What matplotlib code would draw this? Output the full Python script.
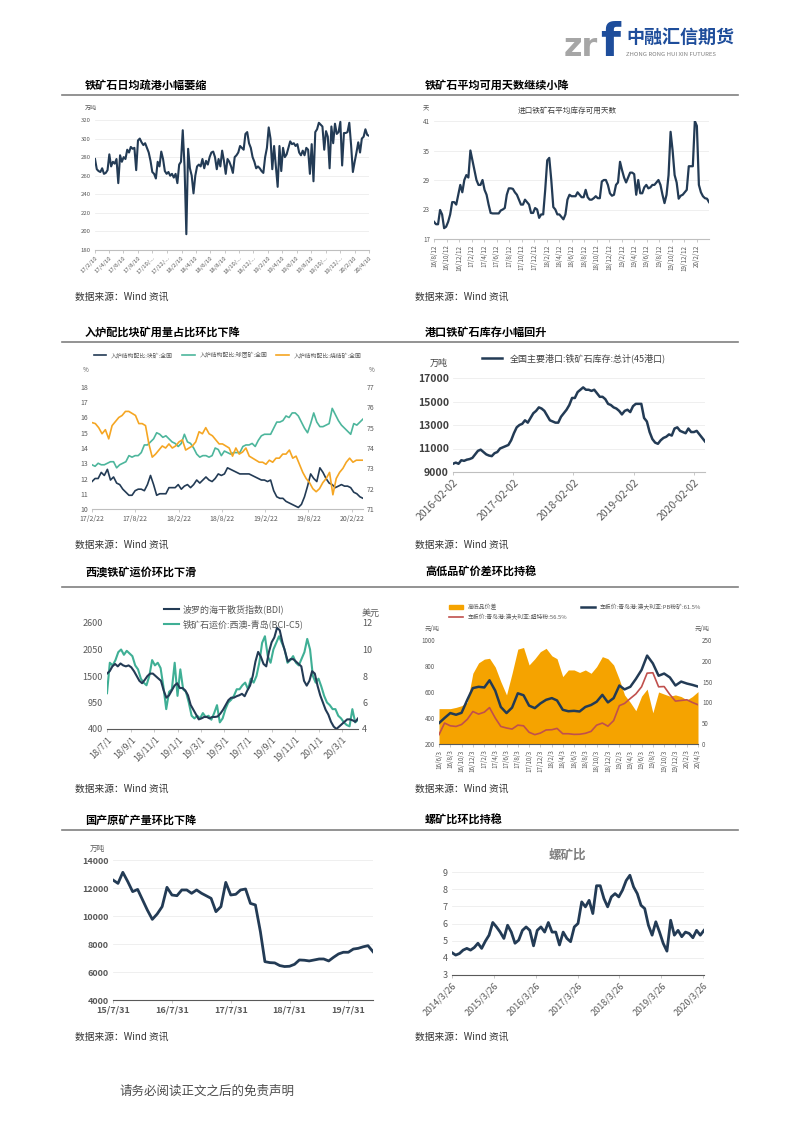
import numpy as np
import pandas as pd
import matplotlib
matplotlib.use('Agg')
import matplotlib.pyplot as plt
from matplotlib.patches import Patch
from matplotlib.lines import Line2D

plt.rcParams['font.family'] = ['Noto Sans CJK SC', 'DejaVu Sans']
plt.rcParams['axes.unicode_minus'] = False

W, H = 793, 1122

# ---- 数据 ----
# 1 铁矿石日均疏港 (万吨), 周度 17/2/10 - 20/4/10
discharge = [278, 267, 265, 264, 268, 262, 263, 266, 283, 270, 275, 273, 278, 252, 282, 275,
             280, 278, 288, 285, 291, 289, 290, 266, 298, 300, 296, 293, 295, 290, 285, 276,
             264, 262, 257, 275, 270, 286, 278, 265, 262, 264, 260, 262, 258, 262, 252, 272,
             275, 309, 270, 197, 289, 268, 260, 241, 260, 270, 272, 270, 278, 268, 276, 272,
             280, 285, 286, 280, 267, 278, 270, 287, 276, 262, 278, 275, 270, 263, 280, 282,
             285, 292, 290, 288, 305, 307, 295, 290, 280, 275, 268, 270, 268, 265, 263, 280,
             290, 312, 300, 267, 292, 270, 248, 292, 265, 290, 280, 283, 290, 297, 294, 295,
             292, 294, 285, 282, 287, 282, 290, 288, 262, 294, 254, 307, 310, 317, 315, 313,
             288, 308, 302, 268, 313, 295, 316, 305, 307, 318, 271, 306, 306, 307, 317, 293,
             264, 275, 285, 296, 285, 300, 302, 310, 304, 303]
discharge_ticks = ['17/2/10', '17/4/10', '17/6/10', '17/8/10', '17/10/...', '17/12/...',
                   '18/2/10', '18/4/10', '18/6/10', '18/8/10', '18/10/...', '18/12/...',
                   '19/2/10', '19/4/10', '19/6/10', '19/8/10', '19/10/...', '19/12/...',
                   '20/2/10', '20/4/10']

# 2 进口铁矿石平均库存可用天数 (天)
stock_days = [20.5, 20, 20, 22.9, 22, 19.2, 19.5, 20.5, 22, 24.5, 24.5, 24, 26, 28, 26.5, 29,
              30, 29.5, 35, 33, 31, 29, 28, 28, 29, 27, 26, 24, 22.3, 22.2, 22.2, 22.2, 22.2,
              22.8, 23, 23.3, 26, 27.3, 27.3, 27.2, 26.5, 26, 25, 24, 24, 25, 24.5, 24, 22.3,
              22.3, 23.3, 23, 21.3, 22, 22, 27, 33, 33.5, 29, 23.5, 23, 22, 22, 21.5, 21, 22,
              25, 26, 25.7, 25.7, 25.7, 26.5, 26, 25.5, 25.5, 27, 25.5, 25, 25, 25.3, 25.7,
              25.3, 25.3, 28.7, 29, 29, 28, 26.3, 25.8, 26, 28, 28.5, 32.7, 31, 29.5, 28.5,
              29.5, 30.5, 30.5, 30.2, 26, 29, 26.3, 26.3, 27.5, 28, 27.3, 27.5, 28, 28, 28.5,
              29, 28, 26, 24.3, 26, 30, 38.8, 35, 30, 28.5, 25.2, 25.8, 26, 26.5, 27, 31.8,
              31.8, 31.8, 41, 40, 28, 26.5, 25.7, 25.3, 25.2, 24.5]

# 3 入炉结构配比 (%)
lump = [11.8, 12, 12, 12.4, 12.2, 12.6, 11.9, 12.1, 11.7, 11.6, 11.3, 11.1, 10.9, 10.9, 11.2,
        11.3, 11.3, 11.2, 11.6, 12.2, 11.6, 10.9, 11.0, 11.0, 11.0, 11.4, 11.4, 11.4, 11.6,
        11.3, 11.5, 11.6, 11.4, 11.6, 11.9, 11.7, 11.9, 12.1, 11.9, 11.8, 12.0, 12.3, 12.2,
        12.3, 12.7, 12.6, 12.5, 12.4, 12.3, 12.3, 12.3, 12.3, 12.2, 12.1, 12.0, 11.9, 11.9,
        11.8, 11.9, 11.2, 10.8, 10.7, 10.7, 10.5, 10.4, 10.3, 10.2, 10.1, 10.3, 10.8, 11.5,
        12.3, 12.0, 11.8, 12.7, 12.4, 12.0, 11.7, 11.6, 11.4, 11.5, 11.6, 11.5, 11.5, 11.4,
        11.1, 11.0, 10.8, 10.7]
pellet = [12.9, 12.8, 13.0, 12.9, 12.9, 13.0, 13.1, 13.1, 12.7, 12.9, 13.0, 13.1, 13.5, 13.4,
          13.5, 13.5, 13.7, 14.2, 14.2, 14.4, 14.6, 15.0, 14.9, 14.7, 14.8, 14.6, 14.4, 14.3,
          14.1, 14.3, 14.9, 14.4, 14.3, 14.0, 13.6, 13.4, 13.5, 13.5, 13.4, 13.5, 14.0, 13.9,
          13.5, 13.8, 13.7, 13.6, 13.7, 13.7, 13.7, 14.1, 14.2, 14.2, 14.3, 14.1, 14.5, 14.8,
          14.9, 14.9, 14.9, 15.3, 15.7, 15.7, 15.8, 16.1, 16.0, 16.3, 16.3, 16.1, 15.7, 15.3,
          15.0, 15.6, 16.3, 15.7, 15.4, 15.4, 15.5, 15.6, 16.6, 16.2, 15.8, 15.5, 15.3, 15.1,
          14.9, 15.6, 15.5, 15.7, 15.9]
sinter = [75.25, 75.2, 75.0, 74.7, 74.9, 74.45, 75.1, 75.3, 75.5, 75.6, 75.8, 75.8, 75.7, 75.6,
          75.2, 75.2, 75.1, 74.2, 73.55, 73.7, 73.9, 74.1, 74.0, 74.2, 74.0, 74.1, 74.3, 74.4,
          73.9, 74.0, 74.1, 74.3, 74.8, 74.7, 75.0, 74.7, 74.6, 74.4, 74.2, 74.2, 74.1, 74.0,
          73.6, 74.0, 73.7, 73.8, 74.0, 73.6, 73.5, 73.4, 73.3, 73.3, 73.2, 73.4, 73.3, 73.5,
          73.5, 73.7, 73.7, 73.9, 73.5, 73.6, 73.2, 72.8, 72.5, 72.3, 72.0, 71.85, 72.0, 72.3,
          72.5, 72.8, 71.7, 72.5, 72.8, 73.0, 73.3, 73.5, 73.3, 73.4, 73.4, 73.4]

# 4 45港口铁矿石库存 (万吨)
port_stock = [9700, 9800, 9700, 10000, 9950, 10050, 10100, 10200, 10500, 10800, 10900, 10700,
              10500, 10400, 10350, 10600, 10700, 11000, 11100, 11200, 11300, 11700, 12300, 12800,
              13000, 13100, 13400, 13200, 13600, 14000, 14200, 14500, 14400, 14200, 13800, 13400,
              13300, 13200, 13200, 13700, 14000, 14300, 14700, 15300, 15300, 15800, 16000, 16200,
              16000, 16000, 15900, 16000, 15700, 15400, 15400, 15200, 14800, 14700, 14500, 14400,
              14200, 13900, 14200, 14300, 14100, 14600, 14800, 14800, 14800, 13600, 13300, 12400,
              11800, 11500, 11400, 11700, 11900, 12000, 12200, 12100, 12700, 12800, 12500, 12400,
              12300, 12700, 12400, 12400, 12500, 12200, 11900, 11600]

# 5 BDI 与 BCI-C5
bdi = [1550, 1600, 1700, 1750, 1700, 1760, 1720, 1700, 1720, 1680, 1600, 1500, 1400, 1350, 1420,
       1500, 1550, 1550, 1500, 1450, 1400, 1200, 1050, 1100, 1200, 1300, 1350, 1250, 1250, 1200,
       1100, 900, 800, 700, 600, 620, 650, 650, 620, 650, 650, 660, 720, 800, 900, 1000, 1050,
       1050, 1080, 1100, 1130, 1080, 1200, 1300, 1500, 1800, 2000, 1900, 1750, 1700, 2000, 2200,
       2300, 2500, 2450, 2200, 2000, 1800, 1850, 1850, 1800, 1750, 1700, 1400, 1300, 1400, 1600,
       1550, 1300, 1100, 950, 800, 700, 550, 450, 400, 450, 500, 550, 600, 600, 580, 550, 620]
bci_c5 = [6.7, 9.0, 8.8, 9.2, 9.8, 10.0, 9.6, 9.9, 9.7, 9.5, 8.8, 8.5, 7.8, 7.5, 7.3, 8.0, 9.2,
          8.8, 9.0, 8.6, 7.2, 5.5, 6.8, 7.0, 9.0, 6.5, 8.5, 7.0, 6.8, 6.0, 5.0, 4.8, 5.0, 4.8,
          5.2, 4.9, 5.0, 4.7, 5.2, 5.8, 4.5, 4.8, 5.5, 6.0, 6.2, 6.5, 7.0, 7.0, 7.3, 7.5, 7.0,
          7.8, 7.5, 8.0, 9.0, 10.5, 11.0, 9.5, 9.0, 10.0, 10.5, 11.0, 10.5, 10.0, 9.0, 9.2, 9.5,
          9.0, 8.8, 9.3, 9.8, 10.8, 10.0, 8.0, 7.5, 7.8, 7.2, 6.5, 6.0, 5.8, 5.5, 5.5, 5.0, 4.8,
          4.5, 4.3, 4.2, 5.5, 4.5, 4.7]

# 6 高低品价差 (月度 16/6/3 - 20/4/3)
spread = [85, 85, 85, 88, 92, 100, 170, 195, 204, 206, 185, 150, 118, 170, 228, 232, 190, 205,
          222, 230, 212, 205, 162, 178, 178, 172, 178, 170, 186, 210, 205, 190, 155, 118, 100,
          80, 115, 132, 75, 125, 120, 115, 118, 114, 106, 114, 126]
pb_fines = [361, 400, 438, 425, 440, 540, 630, 640, 635, 690, 610, 485, 438, 480, 590, 575, 495,
            476, 512, 540, 553, 535, 463, 452, 455, 450, 485, 500, 525, 578, 520, 553, 650, 620,
            640, 700, 770, 880, 820, 725, 742, 712, 650, 680, 665, 655, 642]
super_special = [272, 361, 340, 335, 350, 390, 450, 430, 445, 480, 400, 335, 323, 315, 345, 340,
                 290, 272, 284, 308, 310, 320, 279, 279, 274, 275, 282, 297, 345, 361, 337, 380,
                 495, 512, 550, 585, 640, 745, 748, 640, 642, 580, 530, 535, 540, 520, 502]

# 7 国产原矿产量 (万吨, 月度)
domestic_ore = [12570, 12330, 13120, 12450, 11740, 11900, 11140, 10430, 9760, 10140, 10670,
                12050, 11500, 11450, 11860, 11860, 11620, 11860, 11620, 11450, 11260, 10310,
                10670, 12400, 11500, 11550, 11860, 11930, 10900, 10790, 8880, 6740, 6670, 6650,
                6460, 6390, 6410, 6550, 6860, 6840, 6790, 6860, 6930, 6930, 6790, 7050, 7290,
                7410, 7410, 7640, 7690, 7800, 7880, 7450]

# 8 螺矿比
rebar_ore = [4.3, 4.16, 4.25, 4.45, 4.55, 4.45, 4.6, 4.85, 4.55, 4.97, 5.32, 6.06, 5.8, 5.5, 5.13,
             5.9, 5.5, 4.85, 5.03, 5.6, 5.8, 5.6, 4.7, 5.6, 5.8, 5.5, 6.06, 5.5, 5.5, 4.75, 5.5,
             5.13, 4.94, 5.8, 6.0, 7.26, 6.97, 7.35, 6.58, 8.2, 8.2, 7.45, 6.97, 7.55, 7.74, 7.55,
             7.94, 8.5, 8.81, 8.13, 7.74, 7.06, 6.87, 5.9, 5.32, 6.1, 5.5, 4.84, 4.39, 6.19, 5.32,
             5.6, 5.23, 5.5, 5.42, 5.17, 5.6, 5.32, 5.6]

NAVY = '#233B55'
TEAL = '#4DB69C'
ORANGE = '#F5A623'
RED = '#C0504D'
GRID = '#EDEDED'
TXT = '#595959'


def fx(x):
    return x / W


def fy(y):
    return 1 - y / H


def make_ax(l, t, r, b):
    return fig.add_axes([fx(l), fy(b), (r - l) / W, (b - t) / H])


def style(ax, fs, grid=True, bold=False):
    for s in ['top', 'right', 'left']:
        ax.spines[s].set_visible(False)
    ax.spines['bottom'].set_color('#BFBFBF')
    ax.spines['bottom'].set_linewidth(0.8)
    ax.tick_params(axis='y', length=0, labelsize=fs, colors=TXT, pad=3)
    ax.tick_params(axis='x', length=2, width=0.6, color='#BFBFBF', labelsize=fs,
                   labelcolor=TXT, pad=2)
    if bold:
        for lab in ax.get_yticklabels():
            lab.set_fontweight('bold')
    if grid:
        ax.yaxis.grid(True, color=GRID, lw=0.6)
        ax.set_axisbelow(True)


def dual_style(ax2, fs):
    for s in ax2.spines.values():
        s.set_visible(False)
    ax2.tick_params(axis='y', length=0, labelsize=fs, colors=TXT, pad=3)


def ftext(x, y, s, **kw):
    fig.text(fx(x), fy(y), s, **kw)


def dlab(d, fmt):
    if fmt == 'short':
        return f'{d.year % 100}/{d.month}/{d.day}'
    if fmt == 'iso':
        return d.strftime('%Y-%m-%d')
    return f'{d.year}/{d.month}/{d.day}'


fig = plt.figure(figsize=(W / 100, H / 100), dpi=100)

# ---- 页眉 ----
ftext(564, 56, 'zr', fontsize=23, color='#A6A6A6', fontweight='bold', family='DejaVu Sans',
      va='baseline')
ftext(600, 56, 'f', fontsize=33, color='#1E4D9B', fontweight='bold', family='DejaVu Sans',
      va='baseline')
ftext(626, 37, '中融汇信期货', fontsize=13, color='#1E4D9B', fontweight='bold', va='center')
ftext(626, 54, 'ZHONG RONG HUI XIN FUTURES', fontsize=4.3, color='#808080', va='center')

titles = [(85, 85, '铁矿石日均疏港小幅萎缩'), (425, 85, '铁矿石平均可用天数继续小降'),
          (85, 332, '入炉配比块矿用量占比环比下降'), (425, 332, '港口铁矿石库存小幅回升'),
          (85, 572, '西澳铁矿运价环比下滑'), (425, 572, '高低品矿价差环比持稳'),
          (85, 820, '国产原矿产量环比下降'), (425, 820, '螺矿比环比持稳')]
for x, y, s in titles:
    ftext(x, y, s, fontsize=8, fontweight='bold', color='black', va='center')

for y in [95, 342, 587, 830]:
    fig.add_artist(Line2D([fx(62), fx(738)], [fy(y), fy(y)], color='#808080', lw=1.2))

for y in [297, 545, 789, 1037]:
    ftext(75, y, '数据来源：Wind 资讯', fontsize=7, color='#333333', va='center')
    ftext(415, y, '数据来源：Wind 资讯', fontsize=7, color='#333333', va='center')

ftext(120, 1091, '请务必阅读正文之后的免责声明', fontsize=9, color='#4D4D4D', va='center')

# ---- 图1 ----
ax = make_ax(95, 120, 369, 250)
d = pd.date_range('2017-02-10', '2020-04-10', periods=len(discharge))
ax.plot(d, discharge, color=NAVY, lw=1.5)
ax.set_ylim(180, 320)
ax.set_yticks(range(180, 321, 20))
ax.set_xlim(d[0], d[-1])
tk = pd.date_range('2017-02-10', periods=len(discharge_ticks), freq=pd.DateOffset(months=2))
ax.set_xticks(tk)
ax.set_xticklabels(discharge_ticks, rotation=45, ha='right', rotation_mode='anchor')
style(ax, 4.3)
ftext(85, 108, '万吨', fontsize=4.3, color=TXT, va='center')

# ---- 图2 ----
ax = make_ax(434, 121, 709, 239)
d = pd.date_range('2016-08-12', '2020-04-10', periods=len(stock_days))
ax.plot(d, stock_days, color=NAVY, lw=1.6)
ax.set_ylim(17, 41)
ax.set_yticks([17, 23, 29, 35, 41])
ax.set_xlim(d[0], d[-1])
tk = pd.date_range('2016-08-12', periods=22, freq=pd.DateOffset(months=2))
ax.set_xticks(tk)
ax.set_xticklabels([dlab(t, 'short') for t in tk], rotation=90, ha='center', va='top')
style(ax, 4.5)
ftext(423, 108, '天', fontsize=4.5, color=TXT, va='center')
ftext(567, 111, '进口铁矿石平均库存可用天数', fontsize=5.5, color='#404040', ha='center',
      va='center')

# ---- 图3 ----
ax = make_ax(92, 387, 363, 509)
ax2 = ax.twinx()
d1 = pd.date_range('2017-02-22', '2020-04-08', periods=len(lump))
d2 = pd.date_range('2017-02-22', '2020-04-08', periods=len(pellet))
d3 = pd.date_range('2017-02-22', '2020-04-08', periods=len(sinter))
l1, = ax.plot(d1, lump, color=NAVY, lw=1.2, label='入炉结构配比:块矿:全国')
l2, = ax.plot(d2, pellet, color=TEAL, lw=1.2, label='入炉结构配比:球团矿:全国')
l3, = ax2.plot(d3, sinter, color=ORANGE, lw=1.2, label='入炉结构配比:烧结矿:全国')
ax.set_ylim(10, 18)
ax.set_yticks(range(10, 19))
ax2.set_ylim(71, 77)
ax2.set_yticks(range(71, 78))
ax.set_xlim(d1[0], d1[-1])
tk = pd.date_range('2017-02-22', periods=7, freq=pd.DateOffset(months=6))
ax.set_xticks(tk)
ax.set_xticklabels([dlab(t, 'short') for t in tk])
style(ax, 5, grid=False)
dual_style(ax2, 5)
ax.legend(handles=[l1, l2, l3], loc='center', bbox_to_anchor=(0.5, 1.26), ncol=3,
          frameon=False, fontsize=4.2, handlelength=2.2, columnspacing=1.5,
          labelcolor=TXT)
ftext(83, 370, '%', fontsize=4.5, color=TXT, va='center')
ftext(369, 370, '%', fontsize=4.5, color=TXT, va='center')

# ---- 图4 ----
ax = make_ax(453, 378, 705, 472)
d = pd.date_range('2016-02-02', '2020-04-10', periods=len(port_stock))
ax.plot(d, port_stock, color=NAVY, lw=1.8, label='全国主要港口:铁矿石库存:总计(45港口)')
ax.set_ylim(9000, 17000)
ax.set_yticks(range(9000, 17001, 2000))
ax.set_xlim(d[0], d[-1])
tk = pd.date_range('2016-02-02', periods=5, freq=pd.DateOffset(years=1))
ax.set_xticks(tk)
ax.set_xticklabels([dlab(t, 'iso') for t in tk], rotation=45, ha='right',
                   rotation_mode='anchor', color='#404040')
style(ax, 7.5, bold=True)
for lab in ax.get_yticklabels():
    lab.set_color('#404040')
ax.legend(loc='center', bbox_to_anchor=(0.48, 1.21), frameon=False, fontsize=6.5,
          handlelength=2.2, labelcolor='#404040')
ftext(430, 363, '万吨', fontsize=6.5, color='#404040', va='center')

# ---- 图5 ----
ax = make_ax(107, 623, 358, 729)
ax2 = ax.twinx()
d1 = pd.date_range('2018-07-01', '2020-04-12', periods=len(bdi))
d2 = pd.date_range('2018-07-01', '2020-04-12', periods=len(bci_c5))
l2, = ax2.plot(d2, bci_c5, color='#3FAF95', lw=1.5, label='铁矿石运价:西澳-青岛(BCI-C5)')
l1, = ax.plot(d1, bdi, color=NAVY, lw=1.5, label='波罗的海干散货指数(BDI)')
ax.set_zorder(ax2.get_zorder() + 1)
ax.patch.set_visible(False)
ax.set_ylim(400, 2600)
ax.set_yticks([400, 950, 1500, 2050, 2600])
ax2.set_ylim(4, 12)
ax2.set_yticks([4, 6, 8, 10, 12])
ax.set_xlim(d1[0], d1[-1])
tk = pd.date_range('2018-07-01', periods=11, freq=pd.DateOffset(months=2))
ax.set_xticks(tk)
ax.set_xticklabels([dlab(t, 'short') for t in tk], rotation=45, ha='right',
                   rotation_mode='anchor')
style(ax, 6.5, grid=False)
dual_style(ax2, 6.5)
ax.spines['bottom'].set_color('#595959')
ax.legend(handles=[l1, l2], loc='lower left', bbox_to_anchor=(0.21, 0.9), frameon=False,
          fontsize=6.5, handlelength=1.6, handletextpad=0.4, labelspacing=0.55,
          borderpad=0, labelcolor=TXT)
ftext(362, 613, '美元', fontsize=6.5, color=TXT, va='center')

# ---- 图6 ----
ax = make_ax(439, 640, 698, 744)
ax2 = ax.twinx()
d = pd.date_range('2016-06-03', periods=len(spread), freq=pd.DateOffset(months=1))
ax2.fill_between(d, 0, spread, color='#F5A300', lw=0)
l1, = ax.plot(d, pb_fines, color=NAVY, lw=1.8, label='车板价:青岛港:澳大利亚:PB粉矿:61.5%')
l2, = ax.plot(d, super_special, color=RED, lw=1.2, label='车板价:青岛港:澳大利亚:超特粉:56.5%')
ax.set_zorder(ax2.get_zorder() + 1)
ax.patch.set_visible(False)
ax.set_ylim(200, 1000)
ax.set_yticks(range(200, 1001, 200))
ax2.set_ylim(0, 250)
ax2.set_yticks(range(0, 251, 50))
ax.set_xlim(d[0], d[-1])
tk = pd.date_range('2016-06-03', periods=24, freq=pd.DateOffset(months=2))
ax.set_xticks(tk)
ax.set_xticklabels([dlab(t, 'short') for t in tk], rotation=90, ha='center', va='top')
style(ax, 4.5, grid=False)
dual_style(ax2, 4.5)
ax.spines['bottom'].set_color('#595959')
area = Patch(color='#F5A300', label='高低品价差')
ax.legend(handles=[area, l2, l1], loc='center left', bbox_to_anchor=(0.02, 1.27), ncol=2,
          frameon=False, fontsize=4.2, handlelength=2.4, columnspacing=2.2,
          labelspacing=0.5, labelcolor=TXT)
ftext(425, 629, '元/吨', fontsize=4.5, color=TXT, va='center')
ftext(695, 629, '元/吨', fontsize=4.5, color=TXT, va='center')

# ---- 图7 ----
ax = make_ax(113, 860, 373, 1000)
d = pd.date_range('2015-07-31', periods=len(domestic_ore), freq='ME')
ax.plot(d, domestic_ore, color=NAVY, lw=2)
ax.set_ylim(4000, 14000)
ax.set_yticks(range(4000, 14001, 2000))
ax.set_xlim(d[0], d[-1])
tk = pd.date_range('2015-07-31', periods=5, freq=pd.DateOffset(years=1))
ax.set_xticks(tk)
ax.set_xticklabels([dlab(t, 'short') for t in tk], fontweight='bold')
style(ax, 6.5, bold=True)
ax.spines['bottom'].set_color('#595959')
ftext(90, 849, '万吨', fontsize=5.5, color=TXT, va='center')

# ---- 图8 ----
ax = make_ax(452, 872, 704, 975)
d = pd.date_range('2014-03-26', '2020-04-02', periods=len(rebar_ore))
ax.plot(d, rebar_ore, color=NAVY, lw=2)
ax.set_ylim(3, 9)
ax.set_yticks(range(3, 10))
ax.set_xlim(d[0], d[-1])
tk = pd.date_range('2014-03-26', periods=7, freq=pd.DateOffset(years=1))
ax.set_xticks(tk)
ax.set_xticklabels([dlab(t, 'long') for t in tk], rotation=45, ha='right',
                   rotation_mode='anchor')
style(ax, 6.5)
ax.spines['bottom'].set_color('#595959')
ftext(567, 855, '螺矿比', fontsize=9, fontweight='bold', color='#7F7F7F', ha='center',
      va='center')

fig.savefig('out.png', dpi=100)
